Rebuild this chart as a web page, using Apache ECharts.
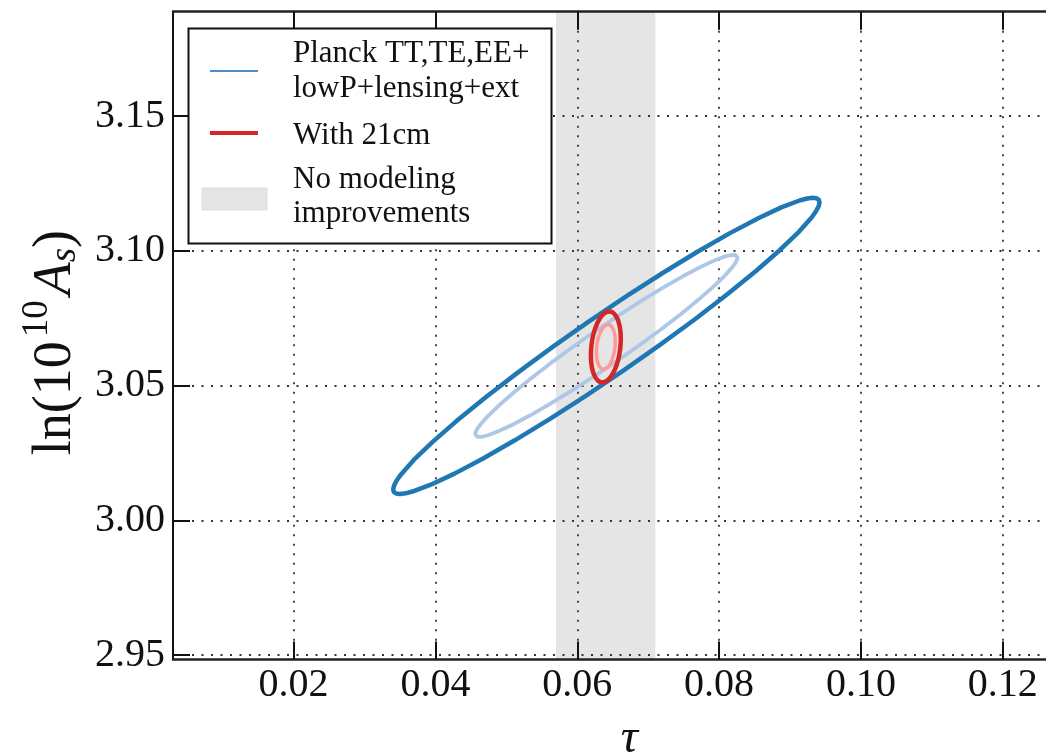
<!DOCTYPE html>
<html>
<head>
<meta charset="utf-8">
<title>tau vs ln(10^10 A_s)</title>
<script src="https://cdn.jsdelivr.net/npm/echarts@6/dist/echarts.min.js"></script>
<style>
  html, body { margin: 0; padding: 0; background: #fff; }
  #chart { width: 1046px; height: 754px; }
</style>
</head>
<body>
<div id="chart"></div>
<script>
// Axis ranges and tick positions
const xRange = [0.003, 0.13];
const yRange = [2.9483, 3.1888];
const xTicks = [0.02, 0.04, 0.06, 0.08, 0.10, 0.12];
const yTicks = [2.95, 3.00, 3.05, 3.10, 3.15];

// tau interval without modeling improvements
const noModelBand = [0.057, 0.071];

// Planck TT,TE,EE+lowP+lensing+ext : 95% and 68% contours (tau, ln 10^10 As)
const planckOuter = [
  [0.06171, 3.07392], [0.05654, 3.06437], [0.05160, 3.05483], [0.04705, 3.04559],
  [0.04301, 3.03693], [0.03961, 3.02913], [0.03695, 3.02240], [0.03512, 3.01695],
  [0.03454, 3.01477], [0.03418, 3.01296], [0.03404, 3.01155], [0.03414, 3.01055],
  [0.03446, 3.00995], [0.03501, 3.00978], [0.03578, 3.01002], [0.03676, 3.01068],
  [0.03935, 3.01322], [0.04269, 3.01733], [0.04667, 3.02287], [0.05119, 3.02970],
  [0.05610, 3.03758], [0.06126, 3.04630], [0.06649, 3.05557], [0.07166, 3.06511],
  [0.07660, 3.07465], [0.08116, 3.08389], [0.08520, 3.09255], [0.08859, 3.10036],
  [0.09125, 3.10709], [0.09308, 3.11253], [0.09366, 3.11471], [0.09403, 3.11652],
  [0.09416, 3.11793], [0.09407, 3.11894], [0.09374, 3.11953], [0.09320, 3.11970],
  [0.09242, 3.11946], [0.09144, 3.11881], [0.08885, 3.11626], [0.08552, 3.11215],
  [0.08153, 3.10661], [0.07701, 3.09978], [0.07210, 3.09190], [0.06695, 3.08319],
  [0.06171, 3.07392]
];
const planckInner = [
  [0.06263, 3.07038], [0.05945, 3.06451], [0.05641, 3.05864], [0.05361, 3.05296],
  [0.05113, 3.04764], [0.04904, 3.04284], [0.04741, 3.03870], [0.04628, 3.03535],
  [0.04592, 3.03401], [0.04570, 3.03290], [0.04561, 3.03203], [0.04567, 3.03141],
  [0.04587, 3.03105], [0.04621, 3.03094], [0.04668, 3.03109], [0.04729, 3.03149],
  [0.04888, 3.03306], [0.05093, 3.03558], [0.05338, 3.03899], [0.05616, 3.04319],
  [0.05918, 3.04804], [0.06235, 3.05340], [0.06557, 3.05910], [0.06875, 3.06497],
  [0.07179, 3.07084], [0.07459, 3.07652], [0.07707, 3.08184], [0.07916, 3.08664],
  [0.08079, 3.09078], [0.08192, 3.09413], [0.08228, 3.09547], [0.08250, 3.09658],
  [0.08259, 3.09745], [0.08253, 3.09807], [0.08233, 3.09844], [0.08199, 3.09854],
  [0.08152, 3.09839], [0.08091, 3.09799], [0.07932, 3.09643], [0.07727, 3.09390],
  [0.07482, 3.09049], [0.07204, 3.08629], [0.06902, 3.08144], [0.06585, 3.07608],
  [0.06263, 3.07038]
];

// With 21cm : 95% and 68% contours
const cm21Outer = [
  [0.06606, 3.06375], [0.06584, 3.06036], [0.06550, 3.05725], [0.06505, 3.05462],
  [0.06454, 3.05266], [0.06399, 3.05150], [0.06345, 3.05121], [0.06294, 3.05182],
  [0.06251, 3.05329], [0.06218, 3.05551], [0.06198, 3.05833], [0.06192, 3.06157],
  [0.06200, 3.06499], [0.06222, 3.06838], [0.06256, 3.07149], [0.06301, 3.07412],
  [0.06352, 3.07608], [0.06407, 3.07724], [0.06461, 3.07753], [0.06512, 3.07692],
  [0.06555, 3.07545], [0.06588, 3.07323], [0.06608, 3.07041], [0.06614, 3.06717],
  [0.06606, 3.06375]
];
const cm21Inner = [
  [0.06531, 3.06398], [0.06517, 3.06184], [0.06495, 3.05988], [0.06467, 3.05823],
  [0.06435, 3.05699], [0.06401, 3.05626], [0.06366, 3.05608], [0.06334, 3.05646],
  [0.06307, 3.05739], [0.06287, 3.05879], [0.06274, 3.06057], [0.06270, 3.06260],
  [0.06275, 3.06476], [0.06289, 3.06690], [0.06311, 3.06886], [0.06339, 3.07051],
  [0.06371, 3.07175], [0.06406, 3.07248], [0.06440, 3.07266], [0.06472, 3.07228],
  [0.06499, 3.07135], [0.06519, 3.06995], [0.06532, 3.06818], [0.06536, 3.06614],
  [0.06531, 3.06398]
];

const legendLabels = ['Planck TT,TE,EE+', 'lowP+lensing+ext', 'With 21cm', 'No modeling', 'improvements'];

const SERIF = "'Liberation Serif', 'Times New Roman', 'DejaVu Serif', serif";
const INK = '#111';

const chart = echarts.init(document.getElementById('chart'), null, { renderer: 'canvas' });

const gridLine = { show: true, lineStyle: { type: [2, 7.5], color: '#333', width: 1.8 } };

function contour(name, data, color, width, smooth) {
  return {
    type: 'line', name: name, data: data,
    showSymbol: false, symbol: 'none', smooth: smooth, silent: true, z: 3,
    lineStyle: { color: color, width: width, cap: 'round', join: 'round' }
  };
}

const legendGraphic = [
  { type: 'rect', z: 100, shape: { x: 188.5, y: 28.5, width: 363, height: 215 },
    style: { fill: '#fff', stroke: INK, lineWidth: 2 } },
  { type: 'line', z: 101, shape: { x1: 210, y1: 71, x2: 258, y2: 71 },
    style: { stroke: '#4a8fc7', lineWidth: 2 } },
  { type: 'line', z: 101, shape: { x1: 210, y1: 133, x2: 258, y2: 133 },
    style: { stroke: '#d62728', lineWidth: 4 } },
  { type: 'rect', z: 101, shape: { x: 202, y: 188, width: 65, height: 22 },
    style: { fill: '#e5e5e5', stroke: '#dcdcdc', lineWidth: 1 } }
];
[[legendLabels[0], 53.5], [legendLabels[1], 88.5], [legendLabels[2], 136], [legendLabels[3], 180], [legendLabels[4], 213.5]]
  .forEach(function (item) {
    legendGraphic.push({
      type: 'text', z: 101,
      style: { text: item[0], x: 293, y: item[1], fill: INK, font: '31px ' + SERIF,
               textAlign: 'left', textVerticalAlign: 'middle' }
    });
  });

const option = {
  animation: false,
  backgroundColor: '#fff',
  textStyle: { fontFamily: SERIF },
  grid: { left: 173, top: 11.7, width: 900.7, height: 647.9, containLabel: false, outerBoundsMode: 'none' },
  xAxis: [
    {
      type: 'value', position: 'bottom', min: xRange[0], max: xRange[1],
      axisLine: { show: true, onZero: false, lineStyle: { color: '#222', width: 2.5 } },
      axisTick: { show: true, inside: true, length: 18, customValues: xTicks, lineStyle: { color: INK, width: 2 } },
      axisLabel: { customValues: xTicks, formatter: function (v) { return v.toFixed(2); },
                   fontSize: 40, color: INK, margin: 6, fontFamily: SERIF },
      splitLine: gridLine,
      name: 'τ', nameLocation: 'middle', nameGap: 56,
      nameTextStyle: { fontSize: 48, fontStyle: 'italic', color: INK, fontFamily: SERIF, padding: [0, 0, 0, 12] }
    },
    {
      type: 'value', position: 'top', min: xRange[0], max: xRange[1],
      axisLine: { show: true, onZero: false, lineStyle: { color: '#222', width: 2.5 } },
      axisTick: { show: true, inside: true, length: 18, customValues: xTicks, lineStyle: { color: INK, width: 2 } },
      axisLabel: { show: false },
      splitLine: { show: false }
    }
  ],
  yAxis: [
    {
      type: 'value', min: yRange[0], max: yRange[1],
      axisLine: { show: true, onZero: false, lineStyle: { color: INK, width: 2 } },
      axisTick: { show: true, inside: true, length: 17, customValues: yTicks, lineStyle: { color: INK, width: 2 } },
      axisLabel: { customValues: yTicks, formatter: function (v) { return v.toFixed(2); },
                   fontSize: 40, color: INK, margin: 8, fontFamily: SERIF },
      splitLine: gridLine,
      name: '{t|ln(10}{sup|10}{sp| }{it|A}{sub|s}{t|)}',
      nameLocation: 'middle', nameGap: 80, nameRotate: 90,
      nameTextStyle: {
        color: INK, fontFamily: SERIF, fontSize: 54, padding: [0, 14, 0, 0],
        rich: {
          t: { fontSize: 54, fontFamily: SERIF, color: INK },
          sup: { fontSize: 37, fontFamily: SERIF, color: INK, padding: [0, 0, 36, 4] },
          sp: { fontSize: 20, fontFamily: SERIF },
          it: { fontSize: 54, fontFamily: SERIF, fontStyle: 'italic', color: INK },
          sub: { fontSize: 37, fontFamily: SERIF, fontStyle: 'italic', color: INK, padding: [20, 0, 0, 0] }
        }
      }
    }
  ],
  series: [
    {
      type: 'custom', name: 'No modeling improvements', z: -1, silent: true,
      data: [noModelBand], encode: { x: [0, 1] },
      renderItem: function (params, api) {
        const p0 = api.coord([api.value(0), yRange[1]]);
        const p1 = api.coord([api.value(1), yRange[0]]);
        return { type: 'rect', shape: { x: p0[0], y: p0[1], width: p1[0] - p0[0], height: p1[1] - p0[1] },
                 style: { fill: '#e5e5e5' } };
      }
    },
    contour('Planck TT,TE,EE+lowP+lensing+ext', planckOuter, '#1f77b4', 4.5, false),
    contour('Planck TT,TE,EE+lowP+lensing+ext (68%)', planckInner, '#aec7e8', 3.8, false),
    contour('With 21cm', cm21Outer, '#d62728', 4.5, 0.3),
    contour('With 21cm (68%)', cm21Inner, '#ff9896', 3.5, 0.3)
  ],
  graphic: legendGraphic
};

chart.setOption(option);
</script>
</body>
</html>
